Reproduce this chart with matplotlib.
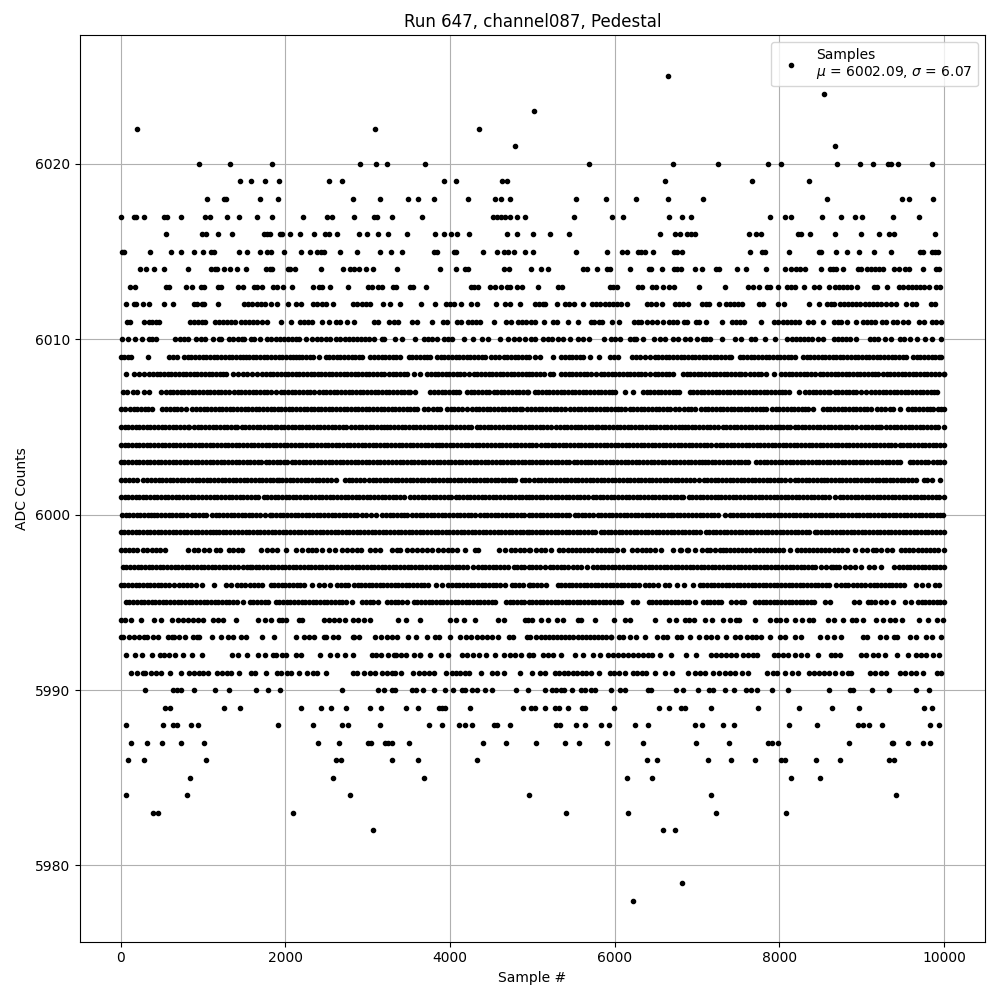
# -*- coding: utf-8 -*-
"""
Pedestal scan for one channel: ADC counts per sample.
Sample positions below are read off the plot, grouped by ADC level.
"""

import numpy as np
import matplotlib
matplotlib.use("Agg")
import matplotlib.pyplot as plt

s6025 = [6650]
s6024 = [8545]
s6023 = [5024]
s6022 = [204, 3090, 4352]
s6021 = [4790, 8681]
s6020 = [956, 1332, 1841, 2909, 3103, 3236, 3697, 5692, 6713, 7260, 7867, 8025, 8705, 8985, 9143, 9325, 9361, 9447, 9860]
s6019 = [1453, 1587, 1757, 1927, 2533, 2690, 3928, 4074, 4627, 4692, 6616, 7673, 8365]
s6018 = [1053, 1259, 1284, 1696, 1914, 2824, 3152, 3491, 3612, 3807, 4219, 4547, 4619, 4728, 5534, 5899, 6263, 6652, 7077, 8584, 9495, 9580, 9872]
s6017 = [0, 156, 192, 289, 532, 568, 738, 1029, 1090, 1296, 1441, 1660, 1841, 2218, 2509, 2569, 2836, 3079, 3115, 3297, 3660, 4522, 4571, 4619, 4668, 4728, 4813, 4910,
         5510, 5972, 6105, 6664, 6822, 6931, 7891, 8074, 8146, 8523, 8754, 8924, 9009, 9386, 9702]
s6016 = [556, 993, 1041, 1187, 1356, 1745, 1781, 1817, 1939, 1963, 2060, 2181, 2351, 2484, 2533, 2630, 2897, 2994, 3127, 3249, 3479, 3818, 3928, 4013, 4086, 4231, 4692, 4813,
         5012, 5218, 5449, 6555, 6737, 6798, 6883, 6931, 6980, 7636, 7721, 7782, 8232, 8268, 8377, 8681, 8997, 9216, 9337, 9398, 9896]
s6015 = [22, 46, 362, 617, 738, 896, 1005, 1102, 1138, 1441, 1538, 1696, 1781, 1829, 1987, 2193, 2303, 2387, 2436, 2472, 2666, 2872, 3152, 3285, 3418, 3807, 3843, 4050, 4074, 4401, 4571, 4655, 4704, 4777, 4910,
         5012, 5534, 5911, 6093, 6154, 6288, 6324, 6373, 6470, 6725, 6761, 6822, 7648, 7794, 7831, 8122, 8487, 8511, 8693, 8827, 8973, 9155, 9361, 9714, 9750, 9860, 9896, 9932]
s6014 = [240, 313, 410, 532, 823, 1102, 1150, 1174, 1259, 1332, 1417, 1526, 1769, 1817, 1841, 2035, 2060, 2120, 2436, 2703, 2787, 2836, 2897, 2981, 3066, 3357, 3879, 4074, 4183, 4219, 4655, 4716,
         4988, 5109, 5194, 5619, 5668, 5789, 5911, 5947, 6190, 6421, 6445, 6579, 6725, 6761, 6810, 6980, 7065, 7235, 7272, 7490, 7600, 7843, 8074, 8146, 8207, 8256, 8317, 8511, 8620, 8657, 8693, 8778, 8960, 8997,
         9070, 9119, 9168, 9216, 9265, 9398, 9459, 9531, 9580, 9742, 9908, 9945]
s6013 = [119, 168, 556, 592, 798, 871, 980, 1017, 1187, 1223, 1429, 1490, 1623, 1660, 1720, 1854, 1902, 1975, 2084, 2339, 2412, 2448, 2545, 2763, 3006, 3054, 3127, 3176, 3309, 3345, 3515, 3551, 3709, 4255, 4292, 4340, 4486, 4547, 4619, 4692, 4728, 4813, 4874,
         5073, 5316, 5364, 5947, 5984, 6032, 6288, 6336, 6458, 6506, 6591, 6664, 6725, 7029, 7345, 7624, 7685, 7758, 7855, 7891, 7989, 8098, 8146, 8195, 8304, 8426, 8487, 8608, 8681, 8730, 8778, 8827, 8875, 8948,
         9155, 9192, 9313, 9459, 9507, 9568, 9617, 9665, 9714, 9762, 9823, 9908, 9957]
s6012 = [59, 156, 192, 277, 338, 532, 641, 885, 933, 982, 1017, 1187, 1502, 1551, 1599, 1660, 1708, 1757, 1829, 1902, 2035, 2132, 2193, 2339, 2387, 2448, 2497, 2581, 2824, 2872, 2933, 2981, 3030, 3188, 3273, 3394, 3649, 3818, 3952, 4001, 4050, 4134, 4255, 4328, 4559, 4668, 4728, 4850,
         5036, 5085, 5133, 5158, 5303, 5401, 5449, 5510, 5619, 5729, 5777, 5826, 5887, 5935, 5984, 6032, 6081, 6154, 6397, 6445, 6506, 6579, 6737, 6786, 6834, 6895, 7065, 7114, 7150, 7272, 7357, 7405, 7454, 7503, 7551, 7758, 7806, 7989, 8061, 8365, 8487, 8584, 8632, 8669,
         8742, 8790, 8839, 8888, 8936, 8985, 9045, 9094, 9143, 9192, 9240, 9301, 9361, 9422, 9544, 9617, 9665, 9847, 9896]
s6011 = [71, 119, 289, 338, 386, 435, 471, 847, 896, 944, 993, 1025, 1150, 1199, 1247, 1296, 1344, 1393, 1466, 1514, 1563, 1611, 1660, 1720, 1781, 1951, 2072, 2181, 2230, 2278, 2327, 2448, 2533, 2618, 2666, 2751, 2836, 3079, 3127, 3261, 3321, 3370, 3539, 3600, 3782, 3915, 3964, 4086, 4134, 4219, 4267, 4316, 4365, 4535, 4680, 4740, 4825, 4874, 4922,
         4988, 5036, 5145, 5255, 5303, 5437, 5559, 5717, 5753, 5814, 5850, 5972, 6057, 6239, 6288, 6324, 6397, 6458, 6518, 6591, 6664, 6713, 6761, 6846, 6883, 6992, 7029, 7114, 7308, 7430, 7478, 7527, 7575, 7778, 7940, 7989, 8049, 8098, 8146, 8195, 8244, 8353, 8414, 8535, 8669, 8718, 8754, 8827, 8936,
         9021, 9070, 9119, 9168, 9252, 9301, 9386, 9434, 9507, 9568, 9702, 9762, 9860, 9908, 9969]
s6010 = [22, 83, 168, 253, 338, 386, 435, 665, 720, 770, 823, 920, 970, 1025, 1126, 1197, 1223, 1320, 1370, 1420, 1470, 1502, 1579, 1620, 1688, 1781, 1821, 1882, 1930, 1980, 2030, 2080, 2130, 2165, 2254, 2327, 2380, 2428, 2489, 2541,
         2618, 2670, 2720, 2770, 2820, 2870, 2920, 2970, 3020, 3074, 3176, 3195, 3337, 3418, 3580, 3681, 3730, 3780, 3843, 3924, 3975, 4025, 4170, 4279, 4388, 4461, 4602, 4703, 4776, 4833, 4910,
         4988, 5036, 5133, 5185, 5235, 5312, 5372, 5461, 5554, 5615, 5684, 5870, 5960, 6010, 6061, 6182, 6232, 6263, 6348, 6482, 6551, 6608, 6709, 6770, 6850, 6911, 7004, 7073, 7114, 7154, 7304, 7458, 7539, 7661, 7701, 7831, 7952,
         8098, 8150, 8200, 8250, 8300, 8350, 8400, 8471, 8531, 8665, 8715, 8765, 8815, 8865, 8936, 9099, 9150, 9200, 9280, 9361, 9463, 9510, 9584, 9677, 9774, 9860, 9969]
s6009 = [2, 45, 90, 131, 329, 588, 640, 689, 770, 815, 860, 905, 950, 995, 1040, 1085, 1130, 1175, 1220, 1265, 1310, 1355, 1400, 1445, 1490, 1518, 1558, 1603, 1648, 1693, 1738, 1783, 1828, 1873, 1918, 1963, 2008, 2053, 2098, 2124, 2165, 2205, 2250, 2295, 2340, 2408,
         2489, 2534, 2579, 2624, 2669, 2714, 2759, 2804, 2849, 2894, 2933, 3034, 3079, 3124, 3169, 3214, 3259, 3304, 3349, 3398, 3499, 3544, 3589, 3634, 3679, 3724, 3762, 3843, 3888, 3933, 3978, 4023, 4068, 4113, 4158, 4203, 4248, 4293, 4338, 4383, 4429, 4502, 4550, 4591, 4651, 4696, 4741, 4786, 4831, 4876, 4921, 4955,
         5028, 5089, 5251, 5352, 5397, 5442, 5487, 5532, 5577, 5615, 5704, 5805, 5939, 5990, 6040, 6210, 6255, 6304, 6364, 6425, 6486, 6531, 6576, 6621, 6666, 6711, 6756, 6801, 6846, 6891, 6936, 6981, 7026, 7073, 7114, 7159, 7204, 7249, 7294, 7339, 7384, 7418,
         7519, 7564, 7609, 7654, 7699, 7744, 7789, 7834, 7879, 7924, 7969, 8014, 8059, 8104, 8147, 8187, 8288, 8333, 8378, 8423, 8468, 8513, 8558, 8603, 8648, 8693, 8734, 8779, 8824, 8869, 8914, 8959, 9004, 9049, 9094, 9139, 9184, 9229, 9274, 9319, 9364, 9409, 9454, 9499, 9544, 9625, 9670, 9715, 9760, 9805, 9850, 9895, 9940, 9969]
s6008 = [63, 164, 220, 285, 346, 391, 436, 481, 526, 571, 608, 661, 706, 751, 796, 841, 892, 932, 977, 1022, 1067, 1112, 1157, 1202, 1247, 1276, 1369, 1429, 1486, 1538, 1599, 1660, 1720, 1765, 1810, 1855, 1900, 1945, 1990, 2035, 2080, 2125, 2170, 2215, 2260, 2307,
         2347, 2392, 2437, 2482, 2527, 2572, 2617, 2662, 2707, 2752, 2797, 2842, 2887, 2932, 2977, 3022, 3067, 3112, 3157, 3202, 3257, 3305, 3350, 3395, 3439, 3479, 3560, 3641, 3722, 3767, 3812, 3857, 3902, 3947, 3992, 4037, 4082, 4127, 4172, 4228,
         4288, 4333, 4378, 4423, 4468, 4513, 4558, 4603, 4648, 4693, 4738, 4783, 4828, 4873, 4918, 4955, 5000, 5045, 5090, 5141, 5210, 5251, 5352, 5397, 5442, 5487, 5532, 5577, 5622, 5667, 5712, 5777, 5830, 5875, 5920, 5965, 6010, 6055, 6100, 6145, 6190, 6235, 6280, 6325, 6370, 6425,
         6486, 6531, 6576, 6621, 6665, 6709, 6830, 6875, 6920, 6965, 7010, 7055, 7100, 7145, 7190, 7235, 7280, 7325, 7370, 7415, 7460, 7505, 7539, 7580, 7640, 7690, 7740, 7782, 7843, 7936, 8025, 8070, 8115, 8160, 8205, 8250, 8295, 8340, 8385, 8430,
         8491, 8536, 8581, 8626, 8671, 8716, 8761, 8806, 8851, 8896, 8941, 8986, 9031, 9076, 9121, 9166, 9200, 9260, 9305, 9350, 9395, 9440, 9485, 9530, 9575, 9620, 9665, 9710, 9755, 9800, 9845, 9890, 9935, 9998]
s6007 = [30, 71, 144, 200, 285, 346, 487, 548, 593, 638, 683, 728, 773, 818, 863, 908, 953, 998, 1043, 1088, 1133, 1178, 1223, 1268, 1316, 1377, 1422, 1467, 1512, 1557, 1602, 1647, 1692, 1737, 1782, 1827, 1882, 1943, 1988, 2033, 2078, 2123, 2168, 2213, 2258, 2303, 2347,
         2408, 2453, 2498, 2543, 2588, 2630, 2671, 2724, 2769, 2814, 2859, 2904, 2949, 2994, 3039, 3084, 3129, 3174, 3219, 3264, 3309, 3354, 3399, 3444, 3489, 3520, 3572, 3762, 3807, 3852, 3897, 3942, 3987, 4032, 4077, 4106, 4207, 4252, 4297, 4342, 4387, 4432, 4477, 4530, 4571, 4616, 4661, 4706, 4751, 4796, 4841, 4886, 4935,
         4947, 5028, 5073, 5118, 5163, 5208, 5253, 5298, 5343, 5388, 5433, 5478, 5523, 5568, 5613, 5658, 5703, 5748, 5793, 5838, 5883, 5928, 5965, 6000, 6130, 6223, 6344, 6389, 6434, 6479, 6524, 6569, 6614, 6659, 6704, 6749, 6778,
         6911, 6956, 7001, 7046, 7091, 7136, 7181, 7226, 7271, 7316, 7361, 7406, 7451, 7496, 7541, 7586, 7631, 7676, 7721, 7766, 7811, 7856, 7901, 7946, 7991, 8036, 8066, 8114, 8236, 8317, 8362, 8407, 8452, 8497, 8542, 8587, 8612, 8673, 8718, 8763, 8808, 8853, 8896, 8936, 8997, 9058,
         9119, 9164, 9209, 9254, 9299, 9344, 9389, 9434, 9479, 9524, 9569, 9614, 9659, 9704, 9749, 9794, 9839, 9884, 9920]
s6006 = [2, 55, 111, 156, 201, 246, 291, 336, 386, 507, 552, 597, 642, 687, 732, 798, 871, 916, 961, 1006, 1051, 1096, 1141, 1195, 1235, 1280, 1325, 1370, 1415, 1460, 1505, 1550, 1595, 1640, 1685, 1730, 1775, 1821, 1862, 1907, 1952, 1997, 2042, 2087, 2132, 2177, 2222, 2267, 2307,
         2347, 2392, 2437, 2482, 2527, 2572, 2617, 2662, 2707, 2752, 2797, 2842, 2887, 2932, 2977, 3022, 3067, 3112, 3157, 3202, 3247, 3292, 3337, 3382, 3427, 3472, 3517, 3562, 3600, 3681, 3736, 3791, 3840, 3883, 3964, 4009, 4054, 4099, 4144, 4207,
         4267, 4312, 4357, 4402, 4447, 4492, 4537, 4582, 4627, 4672, 4717, 4762, 4807, 4852, 4874, 4935, 4988, 5033, 5078, 5123, 5168, 5213, 5258, 5303, 5348, 5393, 5453, 5506, 5551, 5596, 5641, 5686, 5731, 5776, 5821, 5866, 5911, 5956, 6001, 6046, 6081, 6122,
         6182, 6227, 6272, 6317, 6362, 6407, 6452, 6497, 6542, 6587, 6632, 6677, 6729, 6778, 6842, 6887, 6932, 6977, 7045, 7094, 7139, 7184, 7229, 7274, 7319, 7364, 7409, 7454, 7499, 7539, 7580, 7625, 7670, 7715, 7760, 7805, 7843, 7912, 7957, 8002, 8047, 8092, 8137, 8182, 8227, 8272, 8317, 8349, 8410,
         8531, 8576, 8621, 8666, 8711, 8756, 8801, 8846, 8891, 8936, 8981, 9026, 9071, 9119, 9191, 9240, 9290, 9340, 9382, 9463, 9564, 9609, 9654, 9699, 9744, 9789, 9834, 9868, 9929, 9965, 9998]
s6005 = [2, 47, 92, 137, 182, 227, 272, 317, 362, 407, 452, 497, 542, 587, 632, 677, 722, 767, 812, 831, 891, 936, 981, 1026, 1071, 1116, 1161, 1206, 1251, 1296, 1341, 1386, 1417, 1470, 1515, 1560, 1605, 1650, 1695, 1740, 1785, 1830, 1875, 1902, 1943, 1988, 2033, 2078, 2123, 2168, 2205,
         2246, 2291, 2336, 2381, 2426, 2471, 2516, 2561, 2606, 2651, 2696, 2741, 2792, 2844, 2889, 2934, 2979, 3024, 3069, 3114, 3159, 3204, 3237, 3277, 3322, 3367, 3412, 3457, 3502, 3547, 3592, 3637, 3682, 3727, 3772, 3817, 3862, 3907, 3952, 3997, 4025, 4074, 4126, 4171, 4216, 4261, 4328,
         4369, 4414, 4459, 4504, 4549, 4594, 4639, 4692, 4732, 4777, 4822, 4867, 4912, 4955, 5000, 5045, 5090, 5135, 5180, 5230, 5291, 5336, 5381, 5426, 5471, 5516, 5554, 5595, 5640, 5685, 5730, 5777, 5798, 5843, 5888, 5933, 5978, 6023, 6068, 6113, 6158, 6203, 6248, 6293, 6338, 6383, 6428, 6466,
         6506, 6551, 6596, 6641, 6686, 6731, 6776, 6821, 6850, 6891, 6936, 6981, 7026, 7071, 7116, 7161, 7206, 7251, 7316, 7357, 7402, 7447, 7492, 7537, 7582, 7627, 7672, 7717, 7762, 7807, 7852, 7897, 7942, 7987, 8005, 8045, 8090, 8135, 8187,
         8228, 8273, 8318, 8363, 8408, 8453, 8498, 8543, 8588, 8633, 8678, 8723, 8754, 8795, 8840, 8885, 8930, 8997, 9037, 9082, 9127, 9172, 9217, 9240, 9301, 9346, 9391, 9436, 9481, 9526, 9571, 9616, 9665, 9706, 9751, 9796, 9847, 9888, 9933, 9998]
s6004 = [2, 47, 92, 137, 182, 227, 272, 317, 362, 407, 452, 497, 542, 587, 632, 677, 722, 767, 812, 857, 902, 947, 992, 1037, 1082, 1127, 1172, 1217, 1262, 1307, 1352, 1397, 1442, 1487, 1532, 1577, 1622, 1667, 1712, 1761,
         1801, 1846, 1891, 1936, 1981, 2026, 2071, 2116, 2161, 2206, 2251, 2296, 2341, 2386, 2431, 2476, 2521, 2566, 2611, 2656, 2701, 2746, 2791, 2836, 2881, 2926, 2971, 3016, 3061, 3106, 3151, 3196, 3241, 3286, 3331, 3376, 3421, 3466, 3511, 3556, 3601, 3646, 3691, 3736, 3781, 3826, 3871, 3903,
         3952, 3997, 4042, 4087, 4132, 4177, 4222, 4267, 4312, 4357, 4402, 4449, 4502, 4547, 4592, 4637, 4682, 4727, 4772, 4817, 4862, 4907, 4955, 5000, 5045, 5100, 5150, 5190, 5235, 5280, 5325, 5370, 5415, 5460, 5505, 5550, 5595, 5640, 5685, 5730, 5775, 5820, 5865, 5910, 5955, 6000, 6045, 6090, 6135, 6180, 6225, 6270, 6315, 6360, 6405, 6450, 6495, 6540, 6585, 6630, 6675, 6720, 6765, 6810, 6855, 6900, 6945, 6990, 7035, 7080, 7125, 7170, 7235,
         7276, 7321, 7366, 7411, 7456, 7501, 7546, 7591, 7636, 7681, 7726, 7771, 7816, 7861, 7906, 7951, 7996, 8041, 8086, 8131, 8176, 8221, 8266, 8311, 8356, 8401, 8446, 8491, 8536, 8581, 8626, 8671, 8716, 8761, 8806, 8851, 8896, 8941, 8997, 9045, 9090, 9135, 9180, 9225, 9270, 9315, 9360, 9405, 9463, 9503, 9548, 9593, 9638, 9683, 9728, 9773, 9818, 9863, 9908, 9953, 9998]
s6003 = [0, 45, 90, 135, 180, 225, 270, 315, 360, 405, 450, 495, 540, 585, 630, 675, 720, 765, 810, 855, 900, 945, 990, 1035, 1080, 1125, 1170, 1215, 1260, 1305, 1350, 1395, 1440, 1485, 1530, 1575, 1620, 1665, 1700, 1761, 1806, 1851, 1896, 1941, 1986, 2023,
         2076, 2121, 2166, 2211, 2256, 2301, 2346, 2391, 2436, 2481, 2526, 2571, 2616, 2661, 2706, 2751, 2796, 2841, 2886, 2931, 2976, 3021, 3066, 3111, 3156, 3201, 3249, 3297, 3342, 3387, 3432, 3477, 3522, 3567, 3612, 3657, 3702, 3747, 3792, 3837, 3882, 3927, 3972, 4017, 4062, 4107, 4152, 4197, 4242, 4287, 4332, 4377, 4422, 4467, 4512, 4557, 4602, 4647, 4692, 4737, 4782, 4827, 4872, 4917, 4955,
         5000, 5045, 5090, 5135, 5180, 5225, 5270, 5315, 5360, 5405, 5450, 5506, 5546, 5590, 5635, 5676, 5716, 5761, 5806, 5851, 5896, 5941, 5986, 6031, 6076, 6121, 6166, 6211, 6256, 6301, 6346, 6391, 6436, 6481, 6526, 6571, 6616, 6661, 6706, 6751, 6796, 6841, 6886, 6931, 6976, 7021, 7066, 7094, 7134, 7179, 7224, 7269, 7314, 7359, 7404, 7449, 7494, 7539, 7584, 7620,
         7721, 7766, 7811, 7856, 7901, 7946, 7991, 8036, 8081, 8126, 8171, 8216, 8261, 8306, 8351, 8396, 8441, 8486, 8531, 8576, 8621, 8666, 8711, 8756, 8801, 8846, 8891, 8936, 8977, 9022, 9067, 9112, 9157, 9202, 9247, 9292, 9337, 9382, 9427, 9463, 9584, 9629, 9674, 9719, 9766, 9807, 9868, 9913, 9958, 9998]
s6002 = [2, 50, 100, 144, 204, 265, 325, 370, 415, 460, 505, 550, 595, 640, 685, 730, 775, 820, 865, 910, 955, 1000, 1045, 1090, 1135, 1180, 1225, 1270, 1315, 1360, 1405, 1450, 1495, 1540, 1585, 1630, 1675, 1720, 1765, 1810, 1855, 1900, 1922, 1963, 2008, 2053, 2098, 2143, 2188, 2233, 2278, 2323, 2368, 2413, 2458, 2503, 2549, 2618,
         2723, 2768, 2813, 2858, 2903, 2953, 3014, 3059, 3104, 3149, 3194, 3239, 3284, 3329, 3374, 3419, 3464, 3509, 3554, 3599, 3644, 3689, 3734, 3779, 3824, 3869, 3914, 3959, 4004, 4049, 4094, 4139, 4184, 4229, 4274, 4319, 4364, 4409, 4454, 4499, 4544, 4589, 4634, 4664, 4712, 4750, 4793, 4874, 4915, 4955,
         5020, 5065, 5110, 5155, 5200, 5245, 5290, 5335, 5380, 5425, 5470, 5515, 5560, 5605, 5650, 5695, 5740, 5785, 5830, 5875, 5920, 5965, 6010, 6055, 6100, 6145, 6190, 6235, 6280, 6325, 6370, 6415, 6460, 6505, 6550, 6595, 6640, 6685, 6730, 6775, 6820, 6865, 6911, 6960, 7020, 7085,
         7126, 7171, 7216, 7261, 7306, 7351, 7396, 7441, 7486, 7531, 7576, 7621, 7666, 7711, 7756, 7801, 7846, 7891, 7936, 7981, 8026, 8071, 8126, 8187, 8232, 8277, 8322, 8367, 8412, 8457, 8502, 8547, 8584, 8632, 8677, 8722, 8767, 8812, 8857, 8902, 8947, 8992, 9037, 9082, 9127, 9172, 9217, 9262, 9301, 9341, 9386, 9431, 9476, 9521, 9566, 9611, 9665, 9754, 9800, 9856, 9949]
s6001 = [2, 47, 92, 137, 182, 227, 272, 305, 354, 399, 444, 489, 534, 579, 624, 669, 714, 759, 804, 849, 894, 939, 993, 1041, 1086, 1131, 1176, 1221, 1266, 1311, 1356, 1401, 1446, 1491, 1536, 1581, 1626, 1671, 1741, 1781, 1826, 1871, 1916, 1961, 2003, 2044, 2089, 2134, 2179, 2224, 2269, 2314, 2359, 2404, 2449, 2494, 2539, 2584, 2629, 2674, 2719, 2764, 2809, 2854, 2899, 2944, 2989, 3034, 3079, 3124, 3169, 3214, 3259, 3304, 3349, 3394, 3439,
         3520, 3565, 3610, 3655, 3700, 3745, 3790, 3835, 3880, 3925, 3970, 4015, 4074, 4114, 4159, 4204, 4249, 4294, 4339, 4384, 4429, 4474, 4519, 4564, 4609, 4654, 4699, 4744, 4789, 4834, 4879, 4924, 4955, 5000, 5045, 5090, 5135, 5180, 5225, 5270, 5315, 5360, 5405, 5450, 5495, 5540, 5585, 5630, 5675, 5737, 5777, 5818, 5863, 5908, 5953, 5998, 6043, 6088, 6133, 6178, 6223, 6268, 6313, 6358, 6403, 6448, 6493, 6538, 6583, 6628, 6673, 6718, 6763, 6808, 6830,
         6899, 6944, 6989, 7034, 7079, 7124, 7169, 7214, 7259, 7296, 7345, 7390, 7435, 7480, 7525, 7570, 7615, 7660, 7705, 7750, 7795, 7840, 7885, 7930, 7975, 8020, 8065, 8110, 8155, 8200, 8245, 8290, 8335, 8380, 8425, 8470, 8515, 8560, 8605, 8673, 8734, 8779, 8824, 8869, 8914, 8959, 9004, 9049, 9094, 9139, 9184, 9229, 9274, 9319, 9364, 9409, 9454, 9499, 9544, 9589, 9634, 9677, 9718, 9763, 9808, 9853, 9898, 9943, 9998]
s6000 = [14, 59, 104, 149, 194, 239, 284, 329, 374, 406, 447, 492, 537, 582, 627, 672, 717, 762, 807, 863, 904, 949, 994, 1039, 1114, 1154, 1199, 1244, 1289, 1334, 1379, 1424, 1469, 1514, 1559, 1599, 1640, 1690, 1750, 1809, 1842, 1887, 1932, 1977, 2022, 2067, 2112, 2157, 2202, 2247, 2292, 2337, 2382, 2427, 2472, 2517, 2562, 2607, 2652, 2697, 2742, 2787, 2832, 2872, 2933, 2983, 3045, 3103, 3176, 3221, 3266, 3311, 3356, 3401, 3446, 3479,
         3540, 3585, 3630, 3675, 3720, 3765, 3810, 3855, 3900, 3945, 3990, 4035, 4080, 4125, 4170, 4215, 4260, 4305, 4369, 4409, 4454, 4499, 4544, 4589, 4634, 4679, 4724, 4769, 4814, 4859, 4904, 4955, 5000, 5045, 5090, 5135, 5180, 5225, 5270, 5315, 5360, 5405, 5450, 5514, 5554, 5599, 5644, 5689, 5734, 5797, 5838, 5883, 5928, 5973, 6018, 6063, 6108, 6153, 6198, 6243, 6288, 6333, 6378, 6423, 6468, 6513, 6558, 6603, 6648, 6680, 6709, 6754, 6799, 6844, 6889, 6934, 6992,
         7033, 7078, 7123, 7168, 7213, 7258, 7336, 7397, 7442, 7487, 7532, 7577, 7622, 7667, 7712, 7757, 7802, 7847, 7892, 7937, 7982, 8027, 8072, 8117, 8162, 8207, 8252, 8297, 8342, 8387, 8432, 8477, 8522, 8567, 8612, 8657, 8702, 8747, 8792, 8837, 8882, 8927, 8972, 9017, 9062, 9107, 9152, 9197, 9242, 9287, 9332, 9377, 9422, 9467, 9512, 9557, 9602, 9647, 9692, 9737, 9782, 9827, 9872, 9917, 9950, 9989]
s5999 = [0, 45, 90, 135, 180, 225, 270, 315, 360, 405, 450, 495, 540, 585, 630, 675, 720, 765, 810, 855, 900, 945, 990, 1035, 1080, 1125, 1154, 1195, 1240, 1285, 1330, 1375, 1420, 1478, 1518, 1563, 1608, 1653, 1698, 1743, 1788, 1833, 1878, 1923, 1968, 2013, 2058, 2103, 2148, 2193, 2238, 2283, 2328, 2373, 2418, 2463, 2508, 2553, 2598, 2643, 2688, 2733, 2778, 2823, 2868, 2913, 2958, 3003, 3048, 3093, 3138, 3183, 3228, 3273, 3318, 3363, 3408, 3453, 3498, 3543, 3588, 3633, 3678, 3723, 3768, 3813, 3858, 3903, 3948, 3993, 4038, 4083, 4128, 4173, 4218, 4263, 4308, 4353, 4398, 4443, 4488, 4533, 4578, 4623, 4668, 4713, 4758, 4803, 4848, 4893, 4938, 4955,
         5000, 5045, 5090, 5135, 5180, 5225, 5270, 5315, 5360, 5405, 5450, 5495, 5540, 5585, 5630, 5675, 5720, 5765, 5830, 5870, 5915, 5960, 6005, 6050, 6095, 6140, 6185, 6230, 6275, 6320, 6365, 6405, 6454, 6499, 6544, 6589, 6634, 6679, 6724, 6769, 6814, 6859, 6904, 6949, 6994, 7039, 7106, 7146, 7191, 7236, 7281, 7326, 7371, 7416, 7461, 7506, 7551, 7596, 7641, 7686, 7731, 7776, 7821, 7866, 7911, 7964, 8005, 8050, 8095, 8140, 8185, 8230, 8275, 8320, 8365, 8430,
         8462, 8507, 8552, 8597, 8642, 8687, 8732, 8777, 8822, 8867, 8912, 8957, 9002, 9047, 9092, 9137, 9182, 9227, 9272, 9317, 9362, 9407, 9452, 9497, 9542, 9587, 9632, 9677, 9722, 9767, 9812, 9857, 9902, 9947, 9998]
s5998 = [2, 50, 100, 144, 204, 265, 325, 380, 430, 480, 540, 823, 891, 945, 1017, 1071, 1154, 1203, 1312, 1366, 1420, 1474, 1700, 1781, 1841, 1902, 2003, 2124, 2205, 2270, 2325, 2375, 2448, 2526, 2609, 2690, 2745, 2805, 2870, 2916, 3034, 3090, 3148, 3300, 3362, 3398, 3479, 3539, 3595, 3660, 3722, 3782, 3850, 3918, 3973, 4025, 4086, 4186, 4304, 4344, 4590, 4668, 4736, 4795, 4850, 4905, 4955,
         4968, 5040, 5100, 5160, 5230, 5330, 5372, 5430, 5480, 5530, 5580, 5630, 5680, 5730, 5780, 5830, 5880, 5930, 5970, 6028, 6101, 6215, 6270, 6330, 6385, 6425, 6486, 6567, 6705, 6790, 6810, 6875, 6891, 6972, 7057, 7118, 7154, 7215, 7276, 7316, 7357, 7400, 7450, 7500, 7550, 7600, 7650, 7700, 7750, 7800, 7850, 7900, 7950, 8000, 8050, 8127, 8211, 8260, 8310, 8360, 8410, 8460, 8510, 8560, 8610, 8660, 8718,
         8758, 8827, 8924, 9005, 9070, 9139, 9179, 9240, 9309, 9374, 9483, 9530, 9580, 9630, 9680, 9730, 9780, 9830, 9880, 9930, 9998]
s5997 = [25, 70, 115, 160, 205, 250, 295, 340, 385, 430, 475, 520, 565, 610, 655, 700, 745, 790, 835, 880, 925, 970, 1015, 1060, 1105, 1150, 1195, 1240, 1285, 1330, 1375, 1420, 1590, 1640, 1570, 1490, 1530, 1685, 1730, 1775, 1820, 1865, 1910, 1955, 2000, 2045, 2090, 2135, 2180, 2225, 2270, 2315, 2360, 2405, 2450, 2495, 2540, 2585, 2630, 2675, 2720, 2765, 2810, 2855, 2900, 2945, 2990, 3035, 3080, 3125, 3170, 3215, 3260, 3305, 3350, 3395, 3440, 3485, 3530, 3575, 3620, 3665, 3710, 3755, 3800, 3845, 3890, 3935, 3980, 4025, 4070, 4115, 4160, 4205, 4275, 4340, 4385, 4430, 4475, 4520, 4565, 4610, 4655, 4700, 4780, 4815, 4860, 4905, 4955,
         5000, 5045, 5090, 5150, 5210, 5255, 5300, 5345, 5390, 5435, 5494, 5546, 5595, 5668, 5740, 5785, 5830, 5875, 5920, 5965, 6010, 6055, 6100, 6145, 6190, 6235, 6280, 6325, 6370, 6415, 6460, 6505, 6550, 6595, 6640, 6685, 6730, 6775, 6820, 6865, 6910, 6955, 7000, 7045, 7090, 7135, 7180, 7225, 7270, 7315, 7360, 7405, 7450, 7495, 7540, 7585, 7630, 7675, 7720, 7765, 7810, 7855, 7900, 7945, 7990, 8035, 8080, 8125, 8170, 8215, 8260, 8305, 8350, 8395, 8440, 8511, 8572, 8632, 8657, 8693, 8730, 8794, 8855, 8915, 8997, 9094, 9155, 9240, 9398, 9459, 9503, 9548, 9593, 9638, 9683, 9728, 9773, 9818, 9863, 9908, 9953, 9998]
s5996 = [0, 45, 90, 135, 180, 225, 270, 315, 360, 405, 450, 495, 540, 585, 650, 709, 760, 810, 860, 920, 985, 1134, 1280, 1340, 1417, 1458, 1510, 1568, 1618, 1662, 1720, 1822, 1867, 1912, 1957, 2002, 2047, 2092, 2137, 2182, 2230, 2320, 2410, 2470, 2541, 2630, 2675, 2720, 2765, 2832, 2877, 2922, 2967, 3012, 3057, 3102, 3147, 3192, 3237, 3282, 3327, 3372, 3417, 3462, 3507, 3552, 3597, 3642, 3687, 3732, 3830, 3903, 3980, 4025, 4070, 4115, 4160, 4205, 4250, 4295, 4340, 4385, 4430, 4475, 4520, 4565, 4610, 4664, 4749, 4794, 4839, 4884, 4955,
         4967, 5012, 5057, 5102, 5163, 5308, 5353, 5398, 5443, 5488, 5533, 5578, 5623, 5668, 5713, 5758, 5803, 5848, 5893, 5938, 5983, 6028, 6073, 6118, 6163, 6208, 6253, 6298, 6373, 6417, 6470, 6526, 6615, 6660, 6762, 6838, 6951, 7033, 7078, 7123, 7168, 7213, 7258, 7303, 7348, 7393, 7438, 7483, 7528, 7573, 7618, 7663, 7708, 7753, 7798, 7843, 7888, 7933, 7978, 8023, 8068, 8113, 8158, 8203, 8248, 8293, 8338, 8383, 8428, 8473, 8518, 8563, 8608, 8693, 8746, 8794, 8840, 8890, 8950, 8997, 9037, 9100, 9147, 9192, 9237, 9282, 9327, 9372, 9417, 9462, 9512, 9665, 9734, 9807, 9896, 9945]
s5995 = [61, 106, 151, 196, 241, 286, 331, 376, 421, 466, 511, 556, 601, 646, 691, 736, 781, 826, 871, 916, 961, 1006, 1051, 1096, 1141, 1186, 1231, 1276, 1321, 1366, 1417, 1490, 1567, 1612, 1657, 1702, 1747, 1793, 1882, 1927, 1972, 2017, 2062, 2107, 2152, 2197, 2242, 2287, 2332, 2377, 2422, 2467, 2512, 2557, 2602, 2647, 2692, 2737, 2812, 2933, 2978, 3023, 3068, 3127, 3237, 3282, 3327, 3372, 3417, 3479, 3560, 3605, 3650, 3695, 3740, 3785, 3830, 3875, 3920, 3965, 4010, 4055, 4100, 4145, 4190, 4235, 4280, 4325, 4370, 4415, 4460, 4505, 4551, 4680, 4725, 4770, 4815, 4860, 4905, 4955,
         5000, 5045, 5090, 5135, 5180, 5225, 5270, 5315, 5360, 5405, 5450, 5495, 5540, 5585, 5630, 5675, 5720, 5765, 5810, 5855, 5900, 5945, 5990, 6035, 6080, 6222, 6275, 6414, 6459, 6504, 6549, 6594, 6639, 6684, 6729, 6774, 6819, 6864, 6909, 6972, 7073, 7118, 7163, 7208, 7253, 7298, 7418, 7478, 7530, 7570, 7708, 7753, 7798, 7843, 7888, 7933, 7978, 8023, 8068, 8113, 8158, 8203, 8248, 8293, 8338, 8383, 8420, 8557, 8621, 8908, 8970, 9078, 9120, 9159, 9240, 9300, 9386, 9523, 9605, 9685, 9730, 9775, 9820, 9865, 9910, 9955, 9998]
s5994 = [2, 50, 125, 250, 406, 490, 628, 700, 760, 820, 880, 940, 1005, 1122, 1182, 1243, 1406, 1673, 1756, 1824, 1917, 1962, 2011, 2160, 2200, 2472, 2532, 2590, 2650, 2720, 2823, 2884, 2950, 3030, 3370, 3460, 3632, 4004, 4070, 4166, 4300, 4582, 4655, 4915,
         4947, 5000, 5100, 5190, 5295, 5372, 5554, 5595, 5757, 5988, 6130, 6190, 6494, 6657, 6749, 6850, 6900, 6960, 7094, 7183, 7316, 7396, 7478, 7507, 7705, 7884, 7965, 8005, 8080, 8187, 8276, 8360, 8415, 8592, 8665, 8778, 8880, 8936, 9018, 9180, 9261, 9340, 9400, 9490, 9702, 9807, 9920, 9985]
s5993 = [2, 30, 103, 165, 220, 285, 325, 396, 455, 570, 624, 653, 703, 782, 873, 923, 954, 1114, 1215, 1308, 1360, 1460, 1520, 1718, 1862, 2124, 2225, 2285, 2345, 2468, 2500, 2581, 2640, 2825, 2833, 2900, 3091, 3165, 3240, 3300, 3358, 3494, 3582, 3720, 3822, 3862, 4004, 4126, 4190, 4256, 4326, 4385, 4445, 4505, 4580, 4720, 4770, 4935,
         4975, 5050, 5100, 5150, 5200, 5250, 5300, 5350, 5400, 5450, 5500, 5550, 5600, 5650, 5700, 5750, 5800, 5850, 5900, 5950, 5960, 6052, 6105, 6181, 6263, 6372, 6518, 6591, 6631, 6761, 6810, 6915, 7020, 7114, 7170, 7247, 7357, 7458, 7527, 7612, 7665, 7720, 7780, 7888, 8005, 8070, 8187, 8268, 8490, 8584, 8665, 8754, 9018, 9070, 9224, 9300, 9395, 9434, 9592, 9665, 9782, 9855, 9965]
s5992 = [59, 176, 253, 378, 476, 528, 590, 660, 760, 872, 993, 1356, 1420, 1538, 1672, 1750, 1845, 1888, 1964, 2012, 2124, 2185, 2425, 2545, 2630, 2723, 2824, 3055, 3097, 3164, 3249, 3318, 3348, 3400, 3470, 3560, 3632, 3639, 3754, 3885, 3970, 4144, 4210, 4285, 4350, 4440, 4552, 4651, 4735, 4789, 4865, 4955,
         4958, 5009, 5130, 5190, 5250, 5352, 5522, 5619, 5741, 5826, 5920, 5984, 6040, 6100, 6160, 6220, 6288, 6348, 6405, 6457, 6550, 6688, 6863, 6992, 7175, 7235, 7295, 7355, 7415, 7475, 7560, 7620, 7680, 7733, 7936, 7990, 8050, 8110, 8192, 8268, 8340, 8474, 8632, 8680, 8735, 8997, 9050, 9140, 9200, 9280, 9434, 9568, 9665, 9726, 9787, 9868, 9936]
s5991 = [123, 204, 265, 293, 365, 425, 490, 605, 727, 830, 890, 950, 1005, 1060, 1166, 1227, 1296, 1345, 1441, 1579, 1631, 1765, 1902, 1943, 2024, 2072, 2169, 2266, 2340, 2387, 2497, 2824, 2872, 2957, 3030, 3091, 3176, 3237, 3297, 3337, 3406, 3552, 3625, 3680, 3740, 3803, 3948, 4029, 4077, 4126, 4180, 4236, 4377, 4506, 4567, 4651, 4850,
         4996, 5089, 5150, 5271, 5320, 5384, 5437, 5490, 5545, 5600, 5655, 5710, 5816, 5939, 5990, 6050, 6121, 6223, 6275, 6330, 6385, 6494, 6608, 6701, 6895, 6980, 7040, 7100, 7195, 7272, 7345, 7405, 7466, 7547, 7620, 7855, 7920, 7978, 8074, 8159, 8232, 8361, 8420, 8480, 8540, 8600, 8673, 8766, 8830, 8875, 9098, 9160, 9240, 9301, 9471, 9523, 9604, 9660, 9750, 9920, 9961]
s5990 = [301, 641, 689, 738, 896, 1150, 1320, 1648, 1793, 1939, 2690, 3128, 3200, 3297, 3337, 3540, 3589, 3678, 3807, 3940, 4037, 4146, 4187, 4268, 4328, 4420, 4516, 4801, 4946,
         5150, 5243, 5287, 5352, 5384, 5486, 5595, 5635, 5716, 5757, 5951, 6061, 6121, 6405, 6437, 6749, 6834, 7017, 7146, 7195, 7337, 7454, 7600, 7660, 7729, 7916, 8110, 8608, 8855, 8896, 9125, 9332, 9665, 9823]
s5989 = [544, 604, 1259, 1453, 2193, 2436, 2557, 2739, 3030, 3164, 3468, 3612, 3863, 3903, 3944, 4243, 4886,
         4988, 5029, 5158, 5271, 5328, 5437, 5607, 5636, 5996, 6543, 6664, 6810, 6859, 7175, 7746, 8244, 8645, 8973, 9762, 9860]
s5988 = [59, 520, 641, 689, 859, 944, 1914, 2339, 2690, 2763, 3152, 3746, 3903, 4114, 4183, 4267, 4535, 4571, 4728,
         5291, 5340, 5534, 5644, 5838, 5935, 6251, 6409, 6980, 7065, 7320, 7454, 8122, 8462, 8960, 9021, 9094, 9252, 9835, 9945]
s5987 = [131, 325, 507, 738, 1017, 2400, 2654, 3006, 3042, 3212, 3249, 3297, 3505, 4401, 4680,
         5048, 5401, 5571, 5911, 6348, 6992, 7393, 7867, 7916, 7985, 8851, 9370, 9386, 9568, 9750, 9835]
s5986 = [83, 289, 1041, 2618, 2678, 3297, 3612, 4328, 6397, 6518, 7138, 7417, 7709, 8020, 8073, 8450, 8742, 9332, 9390]
s5985 = [847, 2581, 3685, 6154, 6458, 8146, 8499]
s5984 = [59, 811, 2788, 4960, 7175, 9422]
s5983 = [398, 459, 2096, 5413, 6166, 7235, 8081]
s5982 = [3066, 6591, 6737]
s5979 = [6822]
s5978 = [6219]

levels = [6025, 6024, 6023, 6022, 6021, 6020, 6019, 6018, 6017, 6016, 6015, 6014, 6013, 6012, 6011, 6010,
          6009, 6008, 6007, 6006, 6005, 6004, 6003, 6002, 6001, 6000, 5999, 5998, 5997, 5996, 5995, 5994,
          5993, 5992, 5991, 5990, 5989, 5988, 5987, 5986, 5985, 5984, 5983, 5982, 5979, 5978]
samples_by_level = [s6025, s6024, s6023, s6022, s6021, s6020, s6019, s6018, s6017, s6016, s6015, s6014, s6013, s6012, s6011, s6010,
                    s6009, s6008, s6007, s6006, s6005, s6004, s6003, s6002, s6001, s6000, s5999, s5998, s5997, s5996, s5995, s5994,
                    s5993, s5992, s5991, s5990, s5989, s5988, s5987, s5986, s5985, s5984, s5983, s5982, s5979, s5978]

x = np.concatenate([np.array(s, dtype=float) for s in samples_by_level] + [[9999.0]])
y = np.concatenate([np.full(len(s), lev, dtype=float) for s, lev in zip(samples_by_level, levels)] + [[6008.0]])

fig, ax = plt.subplots(figsize=(10, 10))
ax.plot(x, y, "k.", label="Samples\n$\\mu$ = 6002.09, $\\sigma$ = 6.07")
ax.set_title("Run 647, channel087, Pedestal")
ax.set_xlabel("Sample #")
ax.set_ylabel("ADC Counts")
ax.grid(True)
ax.legend(loc="upper right")
fig.tight_layout()
# reference has a slightly taller axes than tight_layout gives here
fig.subplots_adjust(top=0.965)
fig.savefig("out.png", dpi=100)
